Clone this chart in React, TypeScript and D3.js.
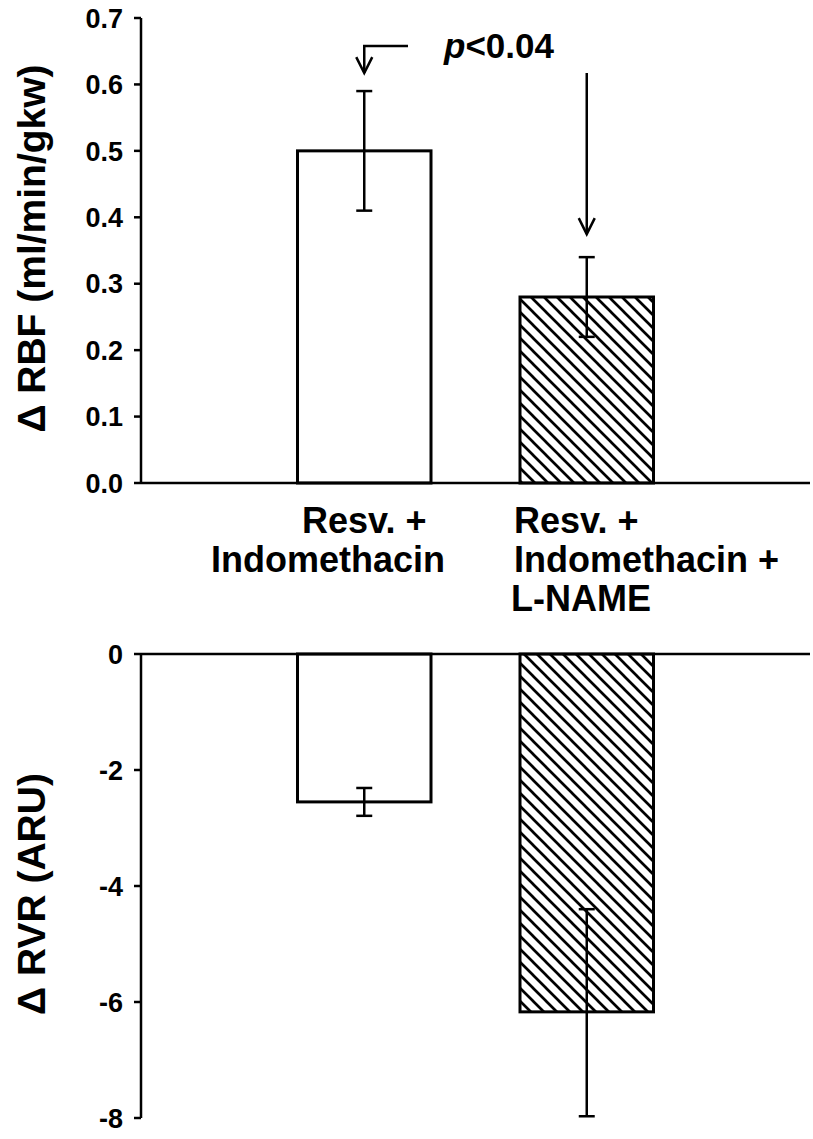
import React from "react";
import * as d3 from "d3";

const categories = ["Resv. + Indomethacin", "Resv. + Indomethacin + L-NAME"];
const rbfValues = [0.5, 0.28];
const rbfErrLow = [0.41, 0.22];
const rbfErrHigh = [0.59, 0.34];
const rvrValues = [-2.55, -6.17];
const rvrErrLow = [-2.79, -7.97];
const rvrErrHigh = [-2.31, -4.4];
const rbfTicks = [0, 0.1, 0.2, 0.3, 0.4, 0.5, 0.6, 0.7];
const rvrTicks = [0, -2, -4, -6, -8];
const hatched = [false, true];

const FONT = "'Liberation Sans', Arial, Helvetica, sans-serif";

export default function App() {
  const W = 813, H = 1139;
  const axisX = 141;
  const x = d3.scaleBand<string>().domain(categories).range([253, 698]).paddingInner(0.4).paddingOuter(0.2);
  const yTop = d3.scaleLinear().domain([0, 0.7]).range([483, 18]);
  const yBot = d3.scaleLinear().domain([-8, 0]).range([1118, 654]);
  const bw = x.bandwidth();
  const fmt1 = d3.format(".1f");

  const bar = (i: number, y: d3.ScaleLinear<number, number>, v: number, lo: number, hi: number) => {
    const x0 = x(categories[i])!;
    const cx = x0 + bw / 2;
    const y0 = y(0), y1 = y(v);
    return (
      <g key={i}>
        <rect x={x0} y={Math.min(y0, y1)} width={bw} height={Math.abs(y1 - y0)}
          fill={hatched[i] ? "url(#hatch)" : "#fff"} stroke="#000" strokeWidth={3} />
        <line x1={cx} x2={cx} y1={y(lo)} y2={y(hi)} stroke="#000" strokeWidth={2.5} />
        <line x1={cx - 8} x2={cx + 8} y1={y(lo)} y2={y(lo)} stroke="#000" strokeWidth={2.5} />
        <line x1={cx - 8} x2={cx + 8} y1={y(hi)} y2={y(hi)} stroke="#000" strokeWidth={2.5} />
      </g>
    );
  };

  const c1 = x(categories[0])! + bw / 2;
  const c2 = x(categories[1])! + bw / 2;
  const leftTip = yTop(rbfErrHigh[0]) - 18;
  const rightTip = yTop(rbfErrHigh[1]) - 23;

  return (
    <svg width={W} height={H} style={{ display: "block", position: "absolute", left: 0, top: 0 }}
      fontFamily={FONT} fontWeight="bold">
      <defs>
        <pattern id="hatch" patternUnits="userSpaceOnUse" width={13} height={13}>
          <rect width={13} height={13} fill="#fff" />
          <path d="M-3,-3 L16,16 M-3,10 L3,16 M10,-3 L16,3" stroke="#000" strokeWidth={2.7} />
        </pattern>
      </defs>
      <rect width={W} height={H} fill="#fff" />

      {/* top chart */}
      {rbfValues.map((v, i) => bar(i, yTop, v, rbfErrLow[i], rbfErrHigh[i]))}
      <line x1={axisX} x2={810} y1={yTop(0)} y2={yTop(0)} stroke="#000" strokeWidth={2.5} />
      <line x1={axisX} x2={axisX} y1={yTop(0.7)} y2={yTop(0)} stroke="#000" strokeWidth={2.5} />
      {rbfTicks.map((t) => (
        <g key={t}>
          <line x1={axisX - 7} x2={axisX} y1={yTop(t)} y2={yTop(t)} stroke="#000" strokeWidth={2.5} />
          <text x={123} y={yTop(t)} dy="0.36em" textAnchor="end" fontSize={27}>{fmt1(t)}</text>
        </g>
      ))}
      <text transform={`translate(45,${(yTop(0) + yTop(0.7)) / 2 - 2}) rotate(-90)`} textAnchor="middle" fontSize={39}>
        Δ RBF (ml/min/gkw)
      </text>

      {/* annotation */}
      <path d={`M408,${leftTip - 27} H${c1} V${leftTip}`} fill="none" stroke="#000" strokeWidth={2.5} />
      <path d={`M${c1 - 8},${leftTip - 16} L${c1},${leftTip} L${c1 + 8},${leftTip - 16}`} fill="none" stroke="#000" strokeWidth={2.5} />
      <text x={444} y={58} fontSize={35}>
        <tspan fontStyle="italic">p</tspan>&lt;0.04
      </text>
      <path d={`M${c2},73 V${rightTip}`} fill="none" stroke="#000" strokeWidth={2.5} />
      <path d={`M${c2 - 8},${rightTip - 16} L${c2},${rightTip} L${c2 + 8},${rightTip - 16}`} fill="none" stroke="#000" strokeWidth={2.5} />

      {/* category labels */}
      <g fontSize={36}>
        <text x={302} y={533}>Resv. +</text>
        <text x={328} y={572} textAnchor="middle">Indomethacin</text>
        <text x={514} y={533}>Resv. +</text>
        <text x={514} y={572}>Indomethacin +</text>
        <text x={511} y={611}>L-NAME</text>
      </g>

      {/* bottom chart */}
      {rvrValues.map((v, i) => bar(i, yBot, v, rvrErrLow[i], rvrErrHigh[i]))}
      <line x1={axisX} x2={810} y1={yBot(0)} y2={yBot(0)} stroke="#000" strokeWidth={2.5} />
      <line x1={axisX} x2={axisX} y1={yBot(0)} y2={yBot(-8)} stroke="#000" strokeWidth={2.5} />
      {rvrTicks.map((t) => (
        <g key={t}>
          <line x1={axisX - 7} x2={axisX} y1={yBot(t)} y2={yBot(t)} stroke="#000" strokeWidth={2.5} />
          <text x={123} y={yBot(t)} dy="0.36em" textAnchor="end" fontSize={27}>{t}</text>
        </g>
      ))}
      <text transform={`translate(45,${(yBot(0) + yBot(-8)) / 2 + 8}) rotate(-90)`} textAnchor="middle" fontSize={39}>
        Δ RVR (ARU)
      </text>
    </svg>
  );
}
